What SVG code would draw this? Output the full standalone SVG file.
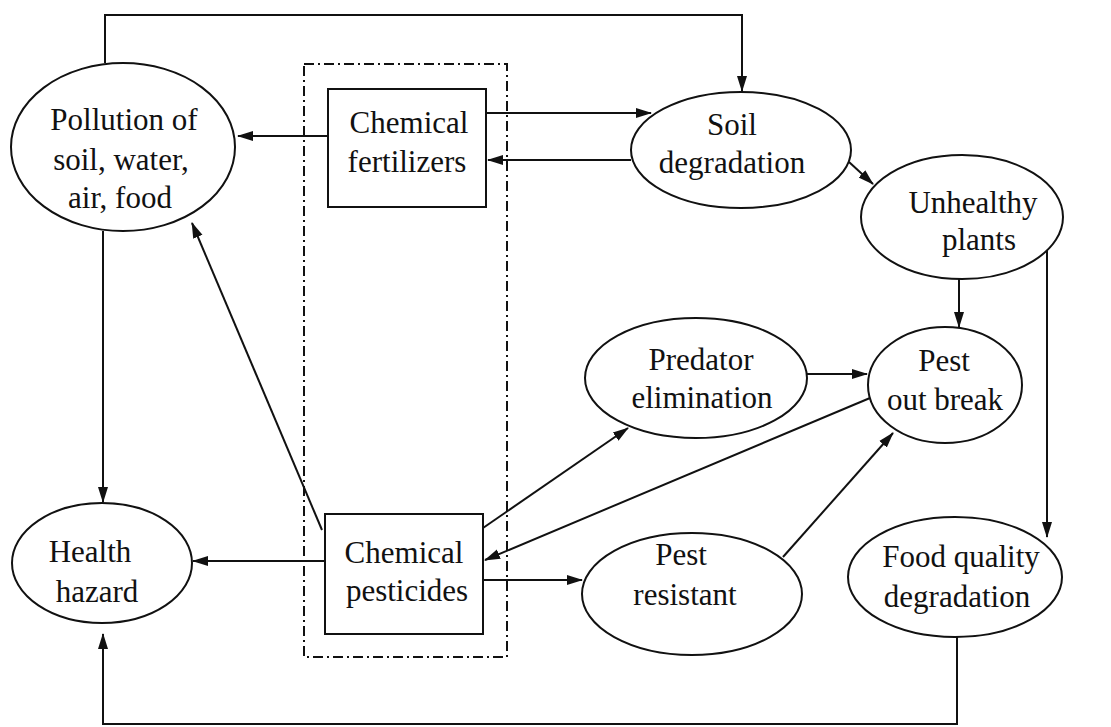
<svg xmlns="http://www.w3.org/2000/svg" width="1111" height="727" viewBox="0 0 1111 727">
<defs>
<marker id="ah" markerWidth="16" markerHeight="12" refX="15" refY="6" orient="auto" markerUnits="userSpaceOnUse">
<path d="M0,1 L16,6 L0,11 Z" fill="#111"/>
</marker>
<style>
.n{fill:#fff;stroke:#111;stroke-width:2}
.t{font-family:"Liberation Serif","Times New Roman",serif;font-size:31px;fill:#111;text-anchor:middle}
.c{fill:none;stroke:#111;stroke-width:2;marker-end:url(#ah)}
.p{fill:none;stroke:#111;stroke-width:2}
</style>
</defs>
<rect width="1111" height="727" fill="#fff"/>
<rect id="group-box" x="304" y="64" width="203" height="593" fill="none" stroke="#111" stroke-width="2" stroke-dasharray="10 4 2 4"/>
<g id="connectors">
<polyline class="c" points="105,63 105,15 742,15 742,91"/>
<line class="c" x1="328" y1="136" x2="238" y2="136"/>
<line class="c" x1="486" y1="113" x2="651" y2="113"/>
<line class="c" x1="631" y1="160" x2="488" y2="160"/>
<line class="c" x1="849" y1="162" x2="873" y2="184"/>
<line class="c" x1="959" y1="279" x2="959" y2="327"/>
<polyline class="c" points="1047,250 1047,537"/>
<line class="c" x1="807" y1="374" x2="867" y2="374"/>
<line class="c" x1="870" y1="398" x2="485" y2="560"/>
<line class="c" x1="483" y1="528" x2="628" y2="428"/>
<line class="c" x1="483" y1="580" x2="582" y2="580"/>
<line class="c" x1="783" y1="557" x2="893" y2="433"/>
<line class="c" x1="322" y1="530" x2="192" y2="223"/>
<line class="c" x1="103" y1="231" x2="103" y2="502"/>
<line class="c" x1="325" y1="561" x2="193" y2="561"/>
<polyline class="c" points="957,637 957,724 103,724 103,634"/>
</g>
<g id="pollution">
<ellipse class="n" cx="123" cy="147" rx="112" ry="84"/>
<text class="t" x="124" y="130">Pollution of</text>
<text class="t" x="121" y="170">soil, water,</text>
<text class="t" x="120" y="208">air, food</text>
</g>
<g id="fertilizers">
<rect class="n" x="328" y="89" width="158" height="118"/>
<text class="t" x="409" y="133">Chemical</text>
<text class="t" x="407" y="172">fertilizers</text>
</g>
<g id="soil">
<ellipse class="n" cx="741" cy="150" rx="110" ry="58"/>
<text class="t" x="732" y="135">Soil</text>
<text class="t" x="732" y="173">degradation</text>
</g>
<g id="unhealthy">
<ellipse class="n" cx="962" cy="217" rx="101" ry="62"/>
<text class="t" x="973" y="213">Unhealthy</text>
<text class="t" x="979" y="250">plants</text>
</g>
<g id="predator">
<ellipse class="n" cx="696" cy="378" rx="111" ry="60"/>
<text class="t" x="701" y="370">Predator</text>
<text class="t" x="702" y="408">elimination</text>
</g>
<g id="outbreak">
<ellipse class="n" cx="945" cy="385" rx="77" ry="58"/>
<text class="t" x="944" y="371">Pest</text>
<text class="t" x="945" y="410">out break</text>
</g>
<g id="pesticides">
<rect class="n" x="325" y="514" width="158" height="120"/>
<text class="t" x="404" y="563">Chemical</text>
<text class="t" x="407" y="601">pesticides</text>
</g>
<g id="resistant">
<ellipse class="n" cx="692" cy="594" rx="110" ry="61"/>
<text class="t" x="681" y="565">Pest</text>
<text class="t" x="685" y="605">resistant</text>
</g>
<g id="health">
<ellipse class="n" cx="102" cy="563" rx="90" ry="60"/>
<text class="t" x="90" y="562">Health</text>
<text class="t" x="97" y="602">hazard</text>
</g>
<g id="foodquality">
<ellipse class="n" cx="955" cy="577" rx="107" ry="60"/>
<text class="t" x="961" y="567">Food quality</text>
<text class="t" x="957" y="607">degradation</text>
</g>
</svg>
